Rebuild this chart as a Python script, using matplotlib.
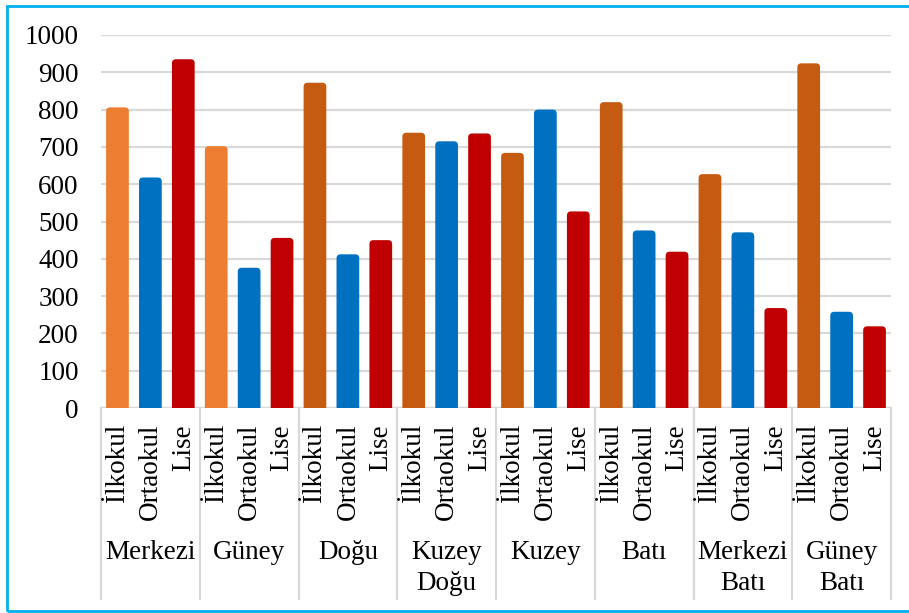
import matplotlib.pyplot as plt
from matplotlib.patches import FancyBboxPatch, Rectangle
import matplotlib.transforms as mtransforms
import numpy as np

plt.rcParams['font.family'] = ['Liberation Serif', 'DejaVu Serif']

# data
regions = ['Merkezi', 'Güney', 'Doğu', 'Kuzey\nDoğu', 'Kuzey', 'Batı', 'Merkezi\nBatı', 'Güney\nBatı']
levels = ['İlkokul', 'Ortaokul', 'Lise']
ilkokul = [806, 702, 872, 738, 684, 820, 627, 924]
ortaokul = [618, 376, 412, 715, 800, 476, 471, 258]
lise = [935, 456, 450, 736, 527, 419, 268, 219]

c_orange_light = '#ED7D31'
c_orange = '#C55A11'
c_blue = '#0070C0'
c_red = '#C00000'
fs = 19.5

fig = plt.figure(figsize=(9.09, 6.13), dpi=100)
ax = fig.add_axes([101 / 909, 1 - 408 / 613, 790 / 909, 373 / 613])

n = len(regions)
x = np.arange(3 * n)
values = []
colors = []
for i in range(n):
    values += [ilkokul[i], ortaokul[i], lise[i]]
    colors += [c_orange_light if i < 2 else c_orange, c_blue, c_red]

bars = ax.bar(x, values, width=0.69, color=colors, zorder=3)

ax.set_xlim(-0.5, 3 * n - 0.5)
ax.set_ylim(0, 1000)

# rounded tops: swap each rectangle for a rounded box
px_x = 790 / (3 * n)
px_y = 373 / 1000
r_px = 4
for b in bars:
    bx, by = b.get_x(), b.get_y()
    w, h = b.get_width(), b.get_height()
    b.set_visible(False)
    ext = 8
    p = FancyBboxPatch((bx, by - ext), w, h + ext,
                       boxstyle='round,pad=0,rounding_size=%f' % (r_px / px_x),
                       mutation_aspect=px_x / px_y,
                       facecolor=b.get_facecolor(), edgecolor='none', zorder=3)
    ax.add_patch(p)

ax.set_yticks(np.arange(0, 1001, 100))
ax.tick_params(axis='y', length=0, pad=16, labelsize=fs)
ax.grid(axis='y', color='#D9D9D9', linewidth=1.6, zorder=0)
for s in ax.spines.values():
    s.set_visible(False)
ax.axhline(0, color='#D9D9D9', linewidth=1.6, zorder=2)

ax.set_xticks([])
trans = mtransforms.blended_transform_factory(ax.transData, fig.transFigure)
for k in range(3 * n):
    ax.text(k, 1 - 424 / 613, levels[k % 3], rotation=90, ha='center', va='top',
            fontsize=fs, transform=trans)
for i in range(n):
    ax.text(3 * i + 1, 1 - 540 / 613, regions[i], ha='center', va='top',
            fontsize=fs, transform=trans, linespacing=1.3)
for i in range(n + 1):
    xs = 3 * i - 0.5
    ax.plot([xs, xs], [1 - 408 / 613, 1 - 599 / 613], color='#D9D9D9',
            linewidth=1.6, transform=trans, clip_on=False)

# blue frame round the chart (right edge falls outside the picture)
fig.patches.append(Rectangle((7 / 909, 1 - 611 / 613), 1, 605 / 613,
                             transform=fig.transFigure, fill=False,
                             edgecolor='#00B0F0', linewidth=2))

fig.savefig('out.png', dpi=100)
